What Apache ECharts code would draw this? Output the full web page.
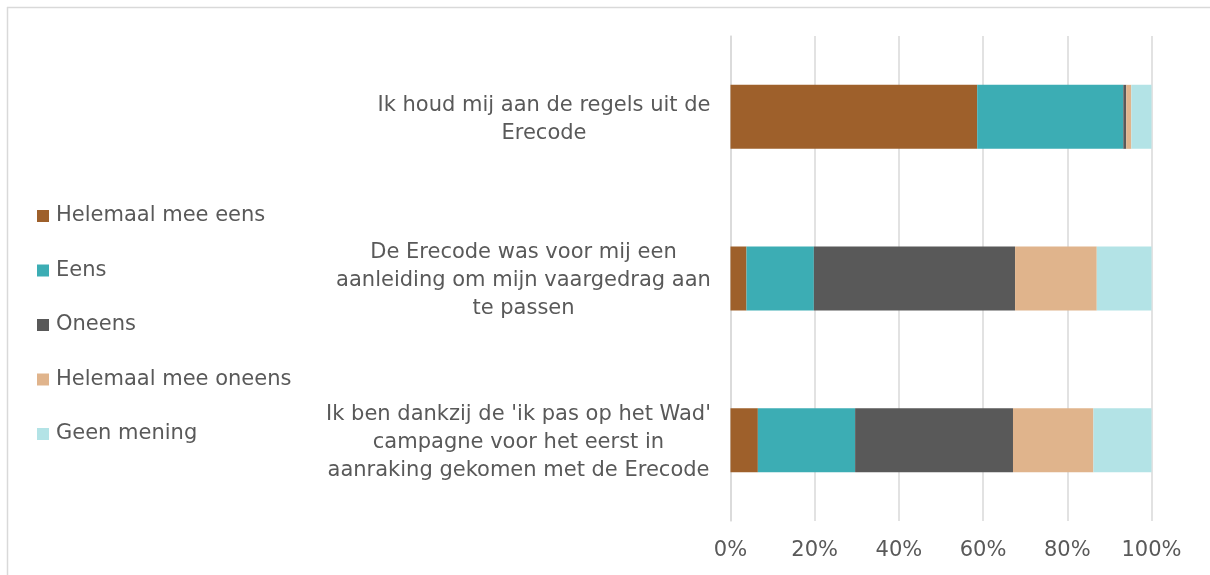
<!DOCTYPE html>
<html>
<head>
<meta charset="utf-8">
<script src="https://cdn.jsdelivr.net/npm/echarts@6/dist/echarts.min.js"></script>
<style>html,body{margin:0;padding:0;background:#fff}#c{width:1210px;height:575px}</style>
</head>
<body>
<div id="c"></div>
<script>
const categories = [
  "Ik houd mij aan de regels uit de\nErecode",
  "De Erecode was voor mij een\naanleiding om mijn vaargedrag aan\nte passen",
  "Ik ben dankzij de 'ik pas op het Wad'\ncampagne voor het eerst in\naanraking gekomen met de Erecode"
];
const seriesNames = ["Helemaal mee eens", "Eens", "Oneens", "Helemaal mee oneens", "Geen mening"];
const helemaalMeeEens = [58.6, 3.8, 6.5];
const eens = [34.7, 16.0, 23.1];
const oneens = [0.7, 47.8, 37.5];
const helemaalMeeOneens = [1.2, 19.4, 19.1];
const geenMening = [4.8, 13.0, 13.8];
const tickLabels = ["0%", "20%", "40%", "60%", "80%", "100%"];
const colors = ["#9E602B", "#3CADB4", "#595959", "#E0B48C", "#B3E3E6"];

const values = [helemaalMeeEens, eens, oneens, helemaalMeeOneens, geenMening];
const FONT = "DejaVu Sans";
const LABEL_SIZE = 21;

// measure each label's widest line so its lines can be centred within the block
const ctx = document.createElement('canvas').getContext('2d');
ctx.font = LABEL_SIZE + 'px "' + FONT + '"';
const rich = {};
categories.forEach((c, i) => {
  const w = Math.max(...c.split('\n').map(l => ctx.measureText(l).width));
  rich['c' + i] = {width: Math.ceil(w) + 1, align: 'center', fontFamily: FONT, fontSize: LABEL_SIZE, color: '#595959', lineHeight: 28};
});

const chart = echarts.init(document.getElementById('c'), null, {renderer: 'canvas'});
chart.setOption({
  animation: false,
  color: colors,
  graphic: [
    {type: 'line', shape: {x1: 7.5, y1: 7, x2: 7.5, y2: 575}, style: {stroke: '#d9d9d9', lineWidth: 1.5}},
    {type: 'line', shape: {x1: 7, y1: 7.5, x2: 1210, y2: 7.5}, style: {stroke: '#d9d9d9', lineWidth: 1.5}}
  ],
  legend: {
    orient: 'vertical',
    left: 32,
    top: 199,
    itemWidth: 12,
    itemHeight: 12,
    itemGap: 30.5,
    icon: 'rect',
    textStyle: {fontFamily: FONT, fontSize: 21, color: '#595959', lineHeight: 24, padding: [0, 0, 0, 2]},
    data: seriesNames
  },
  grid: {left: 730.5, right: 58.5, top: 36, bottom: 54, containLabel: false},
  xAxis: {
    type: 'value', min: 0, max: 100, interval: 20,
    axisLine: {show: false}, axisTick: {show: false},
    splitLine: {lineStyle: {color: '#d9d9d9', width: 1.5}},
    axisLabel: {
      formatter: function(v){ return tickLabels[Math.round(v/20)]; },
      fontFamily: FONT, fontSize: 21, color: '#595959', margin: 19
    }
  },
  yAxis: {
    type: 'category', inverse: true, data: categories,
    axisLine: {lineStyle: {color: '#d9d9d9', width: 1.5}},
    axisTick: {length: 8, lineStyle: {color: '#d9d9d9', width: 1.5}},
    axisLabel: {
      formatter: function(v, idx){ return v.split('\n').map(l => '{c' + idx + '|' + l + '}').join('\n'); },
      rich: rich,
      fontFamily: FONT, fontSize: LABEL_SIZE, color: '#595959', align: 'right', lineHeight: 28, margin: 19,
      padding: [5, 0, 0, 0]
    }
  },
  series: seriesNames.map((n, i) => ({
    name: n, type: 'bar', stack: 'total', barWidth: 64,
    data: values[i],
    itemStyle: {color: colors[i]}
  }))
});
</script>
</body>
</html>
